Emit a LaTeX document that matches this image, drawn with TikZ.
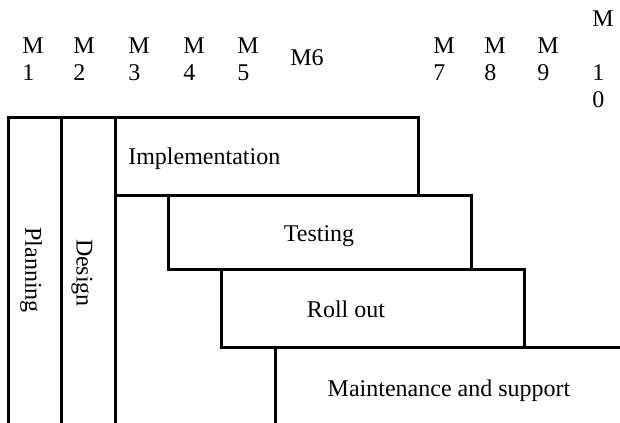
\documentclass[tikz,border=0pt]{standalone}
\usepackage{fontspec}
\setmainfont{Liberation Serif}

\begin{document}
\begin{tikzpicture}[
  x=0.75pt, y=-0.75pt,
  phase/.style={draw, line width=2.25pt},
  txt/.style={font=\fontsize{18}{20.25}\selectfont, inner sep=0pt},
  month/.style={txt, anchor=base west, align=left}
]
\useasboundingbox (0,0) rectangle (620,423);

% month header (base sits on the last line)
\foreach \mx/\mn in {22/1, 73/2, 128/3, 183/4, 237/5, 433/7, 484/8, 537/9}
  \node[month] (m\mn) at (\mx,81) {M\\\mn};
\node[month] (m6) at (290,66) {M6};
\node[month] (m10) at (592,108) {M\\[20.25pt]1\\0};

% phases
\draw[phase] (8,118) rectangle (61,426);
\draw[phase] (61,118) rectangle (115,426);
\draw[phase] (115,118) rectangle (418,196);
\draw[phase] (168,196) rectangle (471,270);
\draw[phase] (221,270) rectangle (524,348);
\draw[phase] (275,348) rectangle (640,426);

\node[txt, rotate=-90] (plan) at (31,270) {Planning};
\node[txt, rotate=-90] (design) at (82,273) {Design};
\node[txt, anchor=base west] (impl) at (128,165) {Implementation};
\node[txt, anchor=base] (test) at (319,242) {Testing};
\node[txt, anchor=base] (roll) at (346,318) {Roll out};
\node[txt, anchor=base] (maint) at (449,396) {Maintenance and support};
\end{tikzpicture}
\end{document}
